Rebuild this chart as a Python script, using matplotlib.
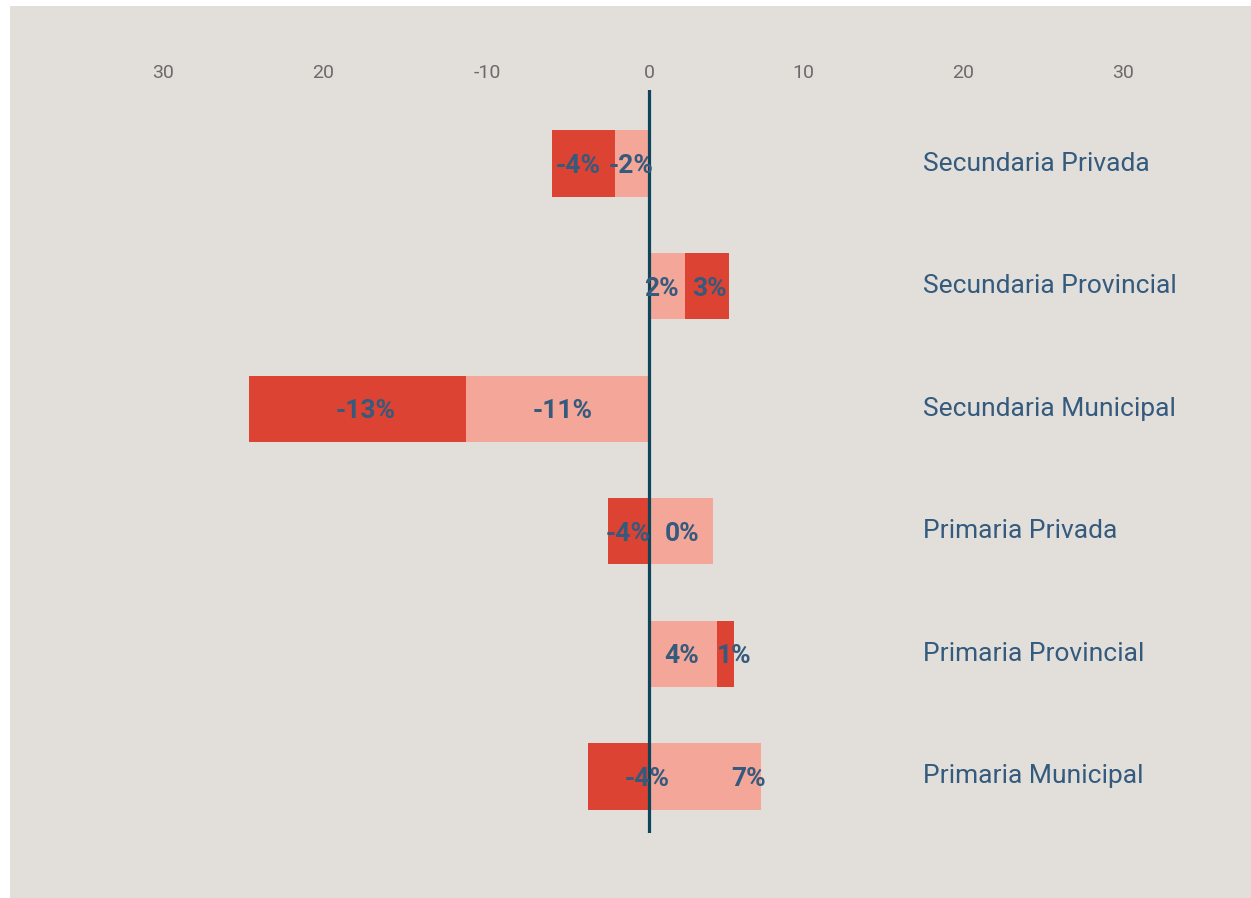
import numpy as np
import matplotlib.pyplot as plt
import matplotlib.transforms as mtransforms
from matplotlib.patches import Rectangle

plt.rcParams['font.family'] = ['Roboto', 'DejaVu Sans']

categories = ["Secundaria Privada", "Secundaria Provincial", "Secundaria Municipal",
              "Primaria Privada", "Primaria Provincial", "Primaria Municipal"]
light_vals = [-2.1, 2.25, -11.45, 4.0, 4.25, 7.0]
dark_vals = [-3.95, 2.75, -13.55, -2.55, 1.05, -3.8]
light_labels = ["-2%", "2%", "-11%", "0%", "4%", "7%"]
dark_labels = ["-4%", "3%", "-13%", "-4%", "1%", "-4%"]
# where the value labels sit (data units)
light_label_x = [-1.1, 0.8, -5.4, 2.05, 2.05, 6.2]
dark_label_x = [-4.45, 3.75, -17.7, -1.3, 5.3, -0.1]

tick_vals = [-30, -20, -10, 0, 10, 20, 30]
tick_text = ["30", "20", "-10", "0", "10", "20", "30"]

BG = "#e2dfdb"
LIGHT = "#f4a698"
DARK = "#dc4332"
TXT = "#345a7d"
ZERO = "#0d4559"

W, H = 1251, 898
fig = plt.figure(figsize=(W / 100, H / 100), dpi=100, facecolor="white")
fig.patches.append(Rectangle((10 / W, 0), 1 - 10 / W, 1 - 6 / H,
                             transform=fig.transFigure, facecolor=BG,
                             edgecolor="none", zorder=-10))

ax = fig.add_axes([100 / W, 65 / H, 1100 / W, 743 / H])
ax.set_facecolor("none")

n = len(categories)
y = np.arange(n)[::-1]  # first category on top
light = np.array(light_vals)
dark = np.array(dark_vals)
dark_left = np.where(np.sign(dark) == np.sign(light), light, 0)

ax.barh(y, light, height=0.54, color=LIGHT, zorder=2)
ax.barh(y, dark, left=dark_left, height=0.54, color=DARK, zorder=2)
ax.axvline(0, color=ZERO, lw=2.3, zorder=3)

for yi, lx, lt, dx, dt in zip(y, light_label_x, light_labels, dark_label_x, dark_labels):
    ax.text(lx, yi - 0.02, lt, ha="center", va="center", fontsize=19,
            fontweight="bold", color=TXT, zorder=4)
    ax.text(dx, yi - 0.02, dt, ha="center", va="center", fontsize=19,
            fontweight="bold", color=TXT, zorder=4)

for yi, cat in zip(y, categories):
    ax.text(17.1, yi, cat, ha="left", va="center", fontsize=19, color=TXT)

ax.set_xlim(-549 / 16, 551 / 16)
ax.set_ylim(-0.461, 5.6)
ax.xaxis.tick_top()
ax.set_xticks(tick_vals)
ax.set_xticklabels(tick_text)
ax.tick_params(axis="x", length=0, pad=6, labelsize=14, labelcolor="#6b6b6b")
ax.set_yticks([])
for s in ax.spines.values():
    s.set_visible(False)

# the tick labels in the original sit a few pixels left of their ticks
for lab, v in zip(ax.get_xticklabels(), tick_vals):
    shift = 0 if v == 0 else (-2 if v == -10 else -6)
    lab.set_transform(lab.get_transform() +
                      mtransforms.ScaledTranslation(shift / 100, 0, fig.dpi_scale_trans))

fig.savefig("out.png", dpi=100, facecolor=fig.get_facecolor())
